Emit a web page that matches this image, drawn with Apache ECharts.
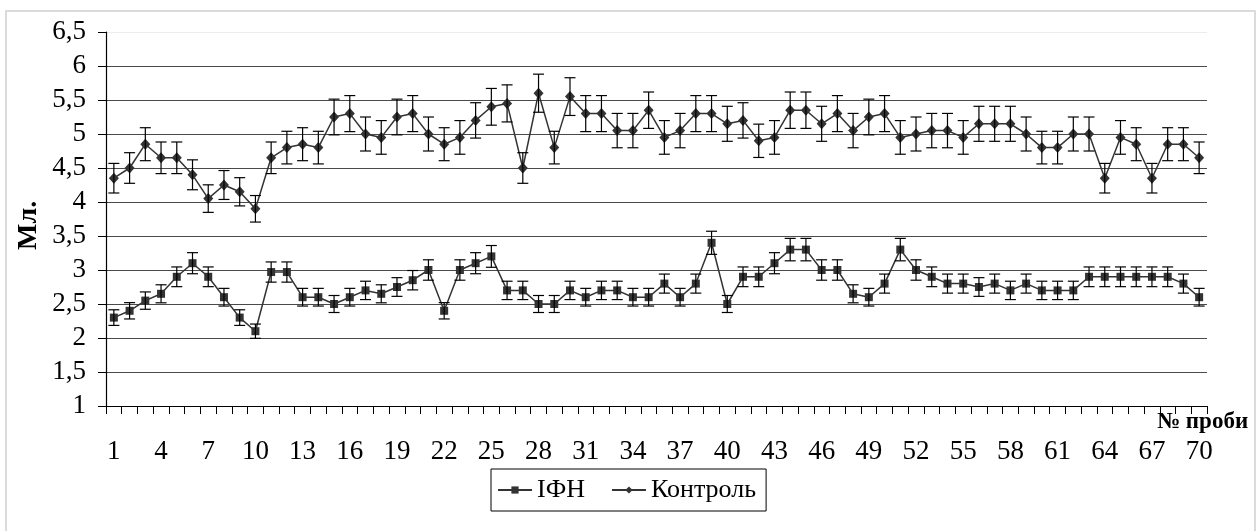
<!DOCTYPE html>
<html>
<head>
<meta charset="utf-8">
<script src="https://cdn.jsdelivr.net/npm/echarts@6/dist/echarts.min.js"></script>
<style>
html,body{margin:0;padding:0;background:#fff;}
#chart{width:1257px;height:531px;}
</style>
</head>
<body>
<div id="chart"></div>
<script>
const categories = [1,2,3,4,5,6,7,8,9,10,11,12,13,14,15,16,17,18,19,20,21,22,23,24,25,26,27,28,29,30,31,32,33,34,35,36,37,38,39,40,41,42,43,44,45,46,47,48,49,50,51,52,53,54,55,56,57,58,59,60,61,62,63,64,65,66,67,68,69,70];
const ifnValues = [2.3,2.4,2.55,2.65,2.9,3.1,2.9,2.6,2.3,2.1,2.97,2.97,2.6,2.6,2.5,2.6,2.7,2.65,2.75,2.85,3.0,2.4,3.0,3.1,3.2,2.7,2.7,2.5,2.5,2.7,2.6,2.7,2.7,2.6,2.6,2.8,2.6,2.8,3.4,2.5,2.9,2.9,3.1,3.3,3.3,3.0,3.0,2.65,2.6,2.8,3.3,3.0,2.9,2.8,2.8,2.75,2.8,2.7,2.8,2.7,2.7,2.7,2.9,2.9,2.9,2.9,2.9,2.9,2.8,2.6];
const controlValues = [4.35,4.5,4.85,4.65,4.65,4.4,4.05,4.25,4.15,3.9,4.65,4.8,4.85,4.8,5.25,5.3,5.0,4.95,5.25,5.3,5.0,4.85,4.95,5.2,5.4,5.45,4.5,5.6,4.8,5.55,5.3,5.3,5.05,5.05,5.35,4.95,5.05,5.3,5.3,5.15,5.2,4.9,4.95,5.35,5.35,5.15,5.3,5.05,5.25,5.3,4.95,5.0,5.05,5.05,4.95,5.15,5.15,5.15,5.0,4.8,4.8,5.0,5.0,4.35,4.95,4.85,4.35,4.85,4.85,4.65];
const seriesNames = ['IФН', 'Контроль'];
const errorPercent = 5;
const yTicks = {min: 1, max: 6.5, step: 0.5};

const FONT = '"Liberation Serif", "Times New Roman", serif';

function errData(vals) {
  return vals.map((v, i) => [i, v * (1 - errorPercent / 100), v * (1 + errorPercent / 100)]);
}
function errRender(params, api) {
  const x = api.coord([api.value(0), 0])[0];
  const lo = api.coord([api.value(0), api.value(1)])[1];
  const hi = api.coord([api.value(0), api.value(2)])[1];
  const hw = 5.5;
  const st = {stroke: '#000', lineWidth: 1.2, fill: null};
  return {
    type: 'group',
    children: [
      {type: 'line', shape: {x1: x, y1: lo, x2: x, y2: hi}, style: st},
      {type: 'line', shape: {x1: x - hw, y1: lo, x2: x + hw, y2: lo}, style: st},
      {type: 'line', shape: {x1: x - hw, y1: hi, x2: x + hw, y2: hi}, style: st}
    ]
  };
}

const splitColors = [];
for (let v = yTicks.min; v <= yTicks.max + 1e-9; v += yTicks.step) splitColors.push('#4a4a4a');
splitColors[splitColors.length - 1] = '#ececec';

const chart = echarts.init(document.getElementById('chart'), null, {renderer: 'canvas'});
chart.setOption({
  animation: false,
  backgroundColor: '#fff',
  textStyle: {fontFamily: FONT},
  grid: {left: 106, right: 50, top: 32, bottom: 125, containLabel: false},
  graphic: [
    {type: 'rect', shape: {x: 6, y: 11, width: 1249, height: 530}, style: {fill: null, stroke: '#d0d0d0', lineWidth: 1.5}, z: 0},
    {type: 'text', left: 1157, top: 411, style: {text: '№ проби', font: 'bold 23px ' + FONT, fill: '#000'}},
    {type: 'text', x: 15, y: 250, rotation: Math.PI / 2, style: {text: 'Мл.', font: 'bold 28px ' + FONT, fill: '#000'}}
  ],
  legend: {
    left: 491, top: 469,
    data: seriesNames,
    borderColor: '#000', borderWidth: 1,
    padding: [8, 10, 8, 6],
    itemWidth: 34, itemHeight: 9, itemGap: 26,
    textStyle: {fontFamily: FONT, fontSize: 26, color: '#000'}
  },
  xAxis: {
    type: 'category',
    data: categories,
    boundaryGap: true,
    axisLine: {lineStyle: {color: '#000', width: 1.2}},
    axisTick: {show: true, interval: 0, length: 8, lineStyle: {color: '#000'}},
    axisLabel: {interval: 2, margin: 32, fontFamily: FONT, fontSize: 27, color: '#000'},
    splitLine: {show: false}
  },
  yAxis: {
    type: 'value',
    min: yTicks.min, max: yTicks.max, interval: yTicks.step,
    axisLine: {show: true, lineStyle: {color: '#000', width: 1.2}},
    axisTick: {show: true, length: 8, lineStyle: {color: '#000'}},
    axisLabel: {margin: 20, fontFamily: FONT, fontSize: 27, color: '#000',
      formatter: v => String(v).replace('.', ',')},
    splitLine: {show: true, lineStyle: {color: splitColors, width: 1.2}}
  },
  series: [
    {
      name: seriesNames[0], type: 'line', data: ifnValues,
      symbol: 'rect', symbolSize: 8, showAllSymbol: true,
      lineStyle: {color: '#333', width: 1.5},
      itemStyle: {color: '#333'}, z: 3
    },
    {
      name: seriesNames[1], type: 'line', data: controlValues,
      symbol: 'diamond', symbolSize: [10, 11], showAllSymbol: true,
      lineStyle: {color: '#333', width: 1.5},
      itemStyle: {color: '#333'}, z: 3
    },
    {type: 'custom', name: 'errIfn', renderItem: errRender, data: errData(ifnValues), z: 4, silent: true},
    {type: 'custom', name: 'errCtl', renderItem: errRender, data: errData(controlValues), z: 4, silent: true}
  ]
});
</script>
</body>
</html>
